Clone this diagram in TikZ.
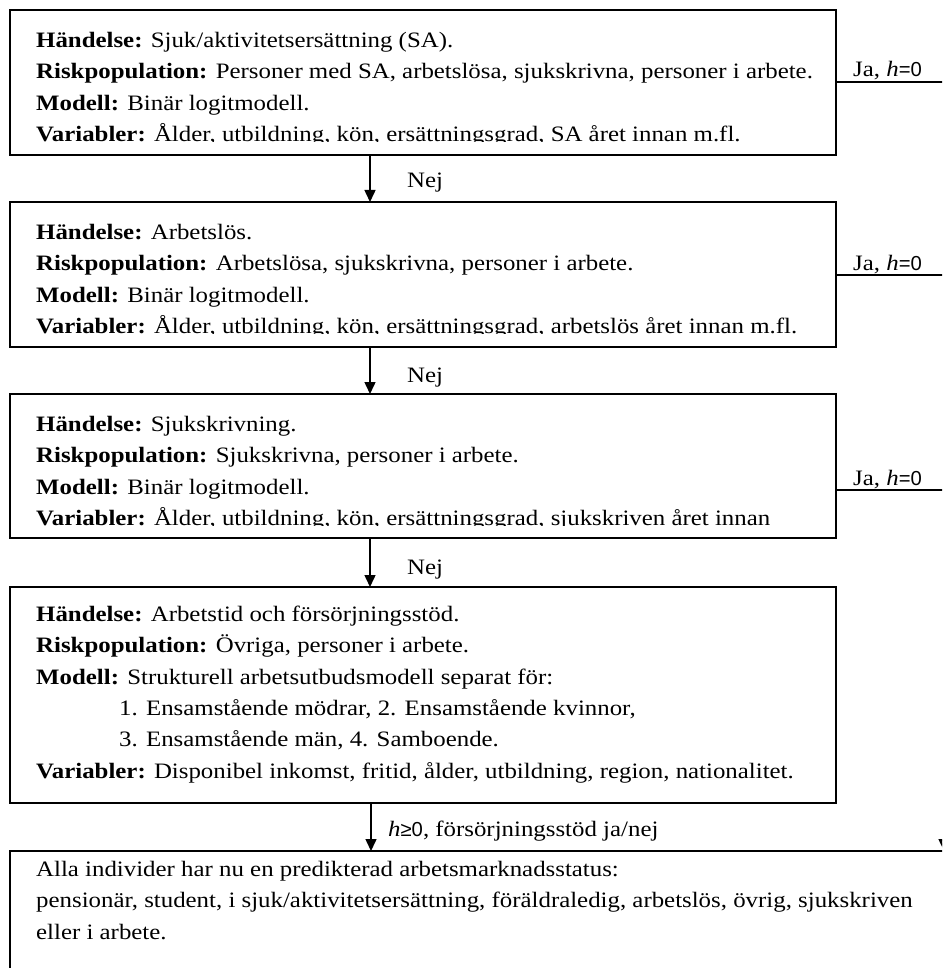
\documentclass[tikz,border=0pt]{standalone}
\usepackage{fontspec}
\setmainfont{Liberation Serif}[FakeStretch=1.13]
\newfontfamily\symfont{Liberation Sans}[Scale=0.92]
\usetikzlibrary{arrows.meta,calc}
\newcommand{\hz}{\textit{h}{\symfont =0}}
\newcommand{\hg}{\textit{h}{\symfont ≥0}}
\begin{document}
\begin{tikzpicture}[x=1pt,y=1pt,
  box/.style={draw, line width=1.6pt, rectangle, anchor=north west, inner sep=0pt, outer sep=0pt, minimum width=826pt},
  txt/.style={anchor=north west, align=left, inner sep=0pt, font=\fontsize{22}{31.3}\selectfont},
  lab/.style={anchor=base west, inner sep=0pt, font=\fontsize{22}{31}\selectfont},
  conn/.style={line width=1.6pt},
  arr/.style={line width=1.5pt, -{Triangle[width=11pt,length=12pt]}}
]
\clip (0,0) rectangle (942,-968);
\fill[white] (0,0) rectangle (942,-968);
% boxes
\node[box, minimum height=145pt] (b1) at (10,-10) {};
\node[box, minimum height=145pt] (b2) at (10,-202) {};
\node[box, minimum height=144pt] (b3) at (10,-394) {};
\node[box, minimum height=216pt] (b4) at (10,-587) {};
\node[box, minimum width=1000pt, minimum height=200pt] (b5) at (10,-851) {};
% box texts (last line cut off as in the original)
\begin{scope}
\clip (b1.north west) rectangle (830,-141.5);
\node[txt] (t1) at ($(b1.north west)+(26,-22)$) {%
  \textbf{Händelse:} Sjuk/aktivitetsersättning (SA).\\
  \textbf{Riskpopulation:} Personer med SA, arbetslösa, sjukskrivna, personer i arbete.\\
  \textbf{Modell:} Binär logitmodell.\\
  \textbf{Variabler:} Ålder, utbildning, kön, ersättningsgrad, SA året innan m.fl.};
\end{scope}
\begin{scope}
\clip (b2.north west) rectangle (830,-333.5);
\node[txt] (t2) at ($(b2.north west)+(26,-22)$) {%
  \textbf{Händelse:} Arbetslös.\\
  \textbf{Riskpopulation:} Arbetslösa, sjukskrivna, personer i arbete.\\
  \textbf{Modell:} Binär logitmodell.\\
  \textbf{Variabler:} Ålder, utbildning, kön, ersättningsgrad, arbetslös året innan m.fl.};
\end{scope}
\begin{scope}
\clip (b3.north west) rectangle (830,-525.5);
\node[txt] (t3) at ($(b3.north west)+(26,-22)$) {%
  \textbf{Händelse:} Sjukskrivning.\\
  \textbf{Riskpopulation:} Sjukskrivna, personer i arbete.\\
  \textbf{Modell:} Binär logitmodell.\\
  \textbf{Variabler:} Ålder, utbildning, kön, ersättningsgrad, sjukskriven året innan};
\end{scope}
\node[txt] (t4) at ($(b4.north west)+(26,-19)$) {%
  \textbf{Händelse:} Arbetstid och försörjningsstöd.\\
  \textbf{Riskpopulation:} Övriga, personer i arbete.\\
  \textbf{Modell:} Strukturell arbetsutbudsmodell separat för:\\
  \hspace{83pt}1. Ensamstående mödrar, 2. Ensamstående kvinnor,\\
  \hspace{83pt}3. Ensamstående män, 4. Samboende.\\
  \textbf{Variabler:} Disponibel inkomst, fritid, ålder, utbildning, region, nationalitet.};
\node[txt] (t5) at ($(b5.north west)+(26,-10)$) {%
  Alla individer har nu en predikterad arbetsmarknadsstatus:\\
  pensionär, student, i sjuk/aktivitetsersättning, föräldraledig, arbetslös, övrig, sjukskriven\\
  eller i arbete.};
% vertical arrows
\draw[arr] (b1.south -| 370,0) -- (b2.north -| 370,0);
\draw[arr] (b2.south -| 370,0) -- (b3.north -| 370,0);
\draw[arr] (b3.south -| 370,0) -- (b4.north -| 370,0);
\draw[arr] (b4.south -| 371,0) -- (b5.north -| 371,0);
\node[lab] (n1) at (407,-188) {Nej};
\node[lab] (n2) at (407,-382) {Nej};
\node[lab] (n3) at (407,-574) {Nej};
\node[lab] (n4) at (388,-836) {\hg, försörjningsstöd ja/nej};
% Ja branches
\coordinate (r1) at (944,-82);
\coordinate (r2) at (944,-275);
\coordinate (r3) at (944,-490);
\coordinate (r4) at (944,-851);
\draw[conn] (b1.east |- r1) -- (r1);
\draw[conn] (b2.east |- r2) -- (r2);
\draw[conn] (b3.east |- r3) -- (r3);
\draw[arr] (r1) -- (r4);
\node[lab] (j1) at (853,-77) {Ja, \hz};
\node[lab] (j2) at (853,-270) {Ja, \hz};
\node[lab] (j3) at (853,-485) {Ja, \hz};
\end{tikzpicture}
\end{document}
